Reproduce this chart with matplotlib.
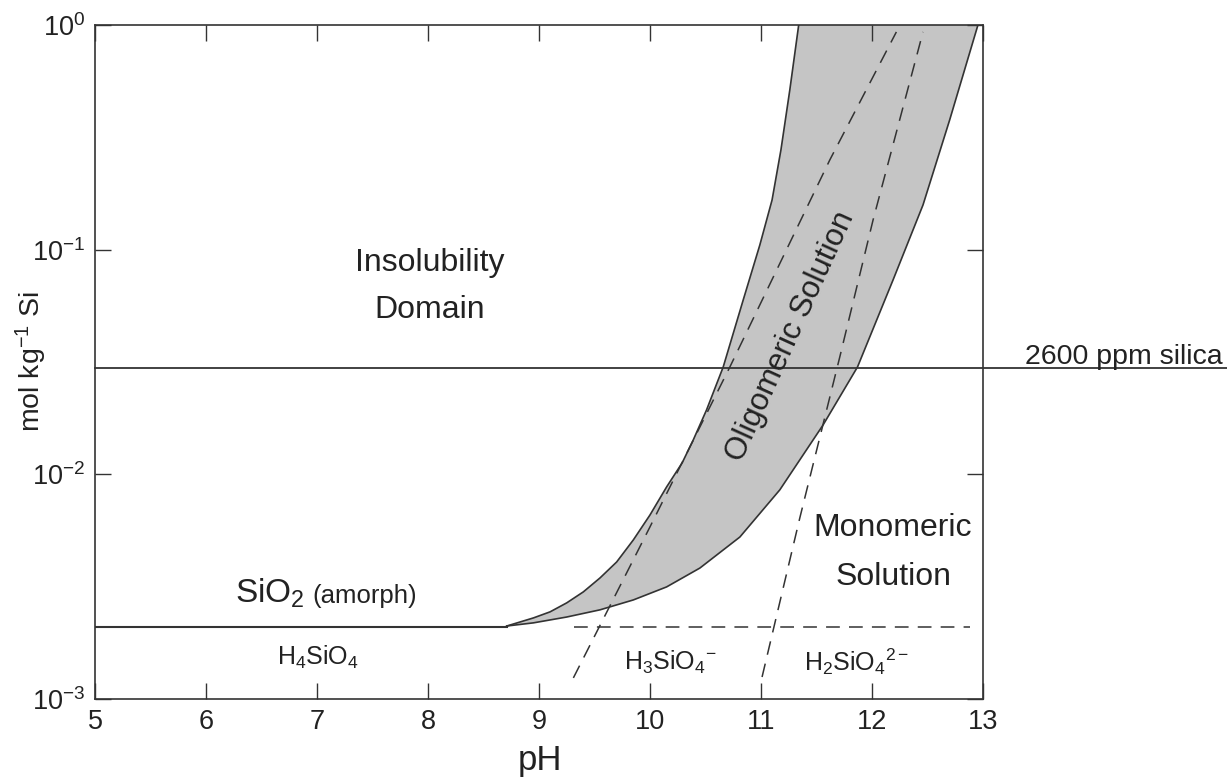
import numpy as np
import matplotlib
matplotlib.use("Agg")
import matplotlib.pyplot as plt
from matplotlib.ticker import FixedLocator, NullLocator

plt.rcParams['font.family'] = ['Liberation Sans', 'DejaVu Sans']
plt.rcParams['mathtext.fontset'] = 'custom'
plt.rcParams['mathtext.rm'] = 'Liberation Sans'
plt.rcParams['mathtext.it'] = 'Liberation Sans'

# Values (pH, log10 mol/kg Si)
sio2_level = 2.1e-3          # amorphous silica solubility, flat part
silica_2600 = 2.97e-2        # 2600 ppm silica
flat_ph = [5.0, 8.71]

upper_ph = [8.71, 8.95, 9.10, 9.25, 9.40, 9.55, 9.70, 9.85, 10.00, 10.15,
            10.29, 10.39, 10.51, 10.66, 10.84, 10.99, 11.10, 11.18, 11.26, 11.34]
upper_log = [-2.675, -2.639, -2.612, -2.572, -2.523, -2.461, -2.390, -2.292,
             -2.181, -2.056, -1.949, -1.847, -1.713, -1.522, -1.224, -0.979,
             -0.779, -0.556, -0.289, 0.0]

lower_ph = [8.71, 8.95, 9.25, 9.55, 9.85, 10.15, 10.45, 10.81, 11.17, 11.56,
            11.87, 12.19, 12.46, 12.70, 12.955]
lower_log = [-2.675, -2.661, -2.635, -2.603, -2.559, -2.501, -2.417, -2.279,
             -2.069, -1.780, -1.522, -1.135, -0.801, -0.423, 0.0]

# H4SiO4 / H3SiO4- boundary
dashA_ph = [9.31, 10.00, 10.72, 11.62, 12.22]
dashA_log = [-2.906, -2.234, -1.522, -0.601, -0.031]

# H3SiO4- / H2SiO4 2- boundary
dashB_ph = [11.01, 11.35, 11.71, 12.01, 12.46]
dashB_log = [-2.902, -2.194, -1.478, -0.868, -0.031]

dashH_ph = [9.32, 12.88]

x_ticks = [5, 6, 7, 8, 9, 10, 11, 12, 13]
y_ticks = [1e-3, 1e-2, 1e-1, 1e0]
y_ticklabels = [r'$\mathregular{10^{-3}}$', r'$\mathregular{10^{-2}}$',
                r'$\mathregular{10^{-1}}$', r'$\mathregular{10^{0}}$']

ink = '#333333'
txt = '#222222'

fig = plt.figure(figsize=(12.27, 7.8), dpi=100)
ax = fig.add_axes([0.0774, 0.1038, 0.7237, 0.8642])
ax.set_yscale('log')
ax.set_xlim(5, 13)
ax.set_ylim(1e-3, 1e0)

upper_y = 10 ** np.array(upper_log)
lower_y = 10 ** np.array(lower_log)

# oligomeric band
ax.fill(np.concatenate([upper_ph, lower_ph[::-1]]),
        np.concatenate([upper_y, lower_y[::-1]]),
        color='#c5c5c5', lw=0, zorder=1)
ax.plot(upper_ph, upper_y, color=ink, lw=1.2, zorder=3)
ax.plot(lower_ph, lower_y, color=ink, lw=1.2, zorder=3)
ax.plot(flat_ph, [sio2_level, sio2_level], color=ink, lw=1.5, zorder=3)

# dashed speciation boundaries
dash = dict(color=ink, lw=1.1, dashes=(9, 6), zorder=2)
ax.plot(dashA_ph, 10 ** np.array(dashA_log), **dash)
ax.plot(dashB_ph, 10 ** np.array(dashB_log), **dash)
ax.plot(dashH_ph, [sio2_level, sio2_level], **dash)

# 2600 ppm line, runs past the right spine
ax.plot([5, 15.2], [silica_2600, silica_2600], color=ink, lw=1.3, zorder=3, clip_on=False)
ax.text(13.38, 0.0333, '2600 ppm silica', fontsize=20.5, color=txt, ha='left', va='center')

# region labels
ax.text(8.02, 0.0873, 'Insolubility', fontsize=23, color=txt, ha='center', va='center')
ax.text(8.02, 0.0539, 'Domain', fontsize=23, color=txt, ha='center', va='center')
ax.text(11.27, 0.0413, 'Oligomeric Solution', fontsize=22.5, color=txt,
        ha='center', va='center', rotation=65.5)
ax.text(12.19, 0.00577, 'Monomeric', fontsize=23, color=txt, ha='center', va='center')
ax.text(12.19, 0.00349, 'Solution', fontsize=23, color=txt, ha='center', va='center')
ax.text(6.89, 0.00268, r'SiO$_2$', fontsize=24, color=txt, ha='right', va='baseline')
ax.text(6.955, 0.00268, '(amorph)', fontsize=18.5, color=txt, ha='left', va='baseline')
ax.text(7.01, 0.00154, r'H$_4$SiO$_4$', fontsize=18, color=txt, ha='center', va='center')
ax.text(10.18, 0.00146, r'H$_3$SiO$_4$$^{-}$', fontsize=18, color=txt,
        ha='center', va='center')
ax.text(11.86, 0.00146, r'H$_2$SiO$_4$$^{2-}$', fontsize=18, color=txt,
        ha='center', va='center')

# axes styling
ax.xaxis.set_major_locator(FixedLocator(x_ticks))
ax.yaxis.set_major_locator(FixedLocator(y_ticks))
ax.yaxis.set_minor_locator(NullLocator())
ax.set_yticklabels(y_ticklabels)
ax.tick_params(which='major', direction='in', length=11.5, width=1.0, color=ink,
               top=True, right=True, labelsize=19.5, labelcolor=txt)
ax.tick_params(axis='x', pad=7)
ax.tick_params(axis='y', pad=7)
for s in ax.spines.values():
    s.set_linewidth(1.2)
    s.set_color(ink)

ax.set_xlabel('pH', fontsize=25, color=txt)
ax.set_ylabel(r'mol kg$^{-1}$ Si', fontsize=20.5, color=txt)
ax.xaxis.set_label_coords(0.501, -0.066)
ax.yaxis.set_label_coords(-0.052, 0.5)

fig.savefig('out.png', dpi=100)
